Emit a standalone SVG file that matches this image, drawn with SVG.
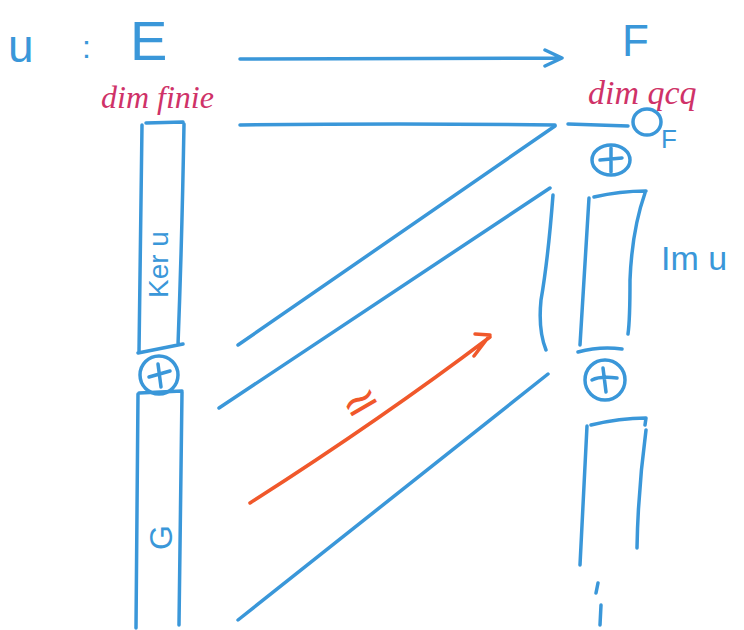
<svg xmlns="http://www.w3.org/2000/svg" width="744" height="630" viewBox="0 0 744 630">
<style>
.b{fill:none;stroke:#3a97d9;stroke-width:3.5;stroke-linecap:round;stroke-linejoin:round}
.o{fill:none;stroke:#f0582b;stroke-width:3.5;stroke-linecap:round;stroke-linejoin:round}
.tb{fill:#3a97d9;font-family:"Liberation Sans",sans-serif}
.tp{fill:#cf3268;font-family:"Liberation Serif",serif;font-style:italic}
.to{fill:#f0582b;font-family:"DejaVu Sans",sans-serif}
</style>
<rect width="744" height="630" fill="#fff"/>
<g id="title">
<text class="tb" x="8" y="62" font-size="46">u</text>
<text class="tb" x="82" y="58" font-size="32">:</text>
<text class="tb" x="130" y="60" font-size="56">E</text>
</g>
<g id="F">
<text class="tb" x="622" y="56" font-size="44">F</text>
<text class="tp" x="588" y="104" font-size="34">dim qcq</text>
</g>
<g id="Elabel"><text class="tp" x="101" y="108" font-size="32">dim finie</text></g>
<g id="zeroF">
<ellipse class="b" cx="647" cy="122" rx="14" ry="13"/>
<text class="tb" x="661" y="148" font-size="26">F</text>
</g>
<g id="oplusR1"><ellipse class="b" cx="611" cy="160" rx="19" ry="15"/><path class="b" d="M600 160 L622 158 M611 148 L611 172"/></g>
<g id="ker">
<path class="b" d="M146 123 L183 122 M142 125 L139 352 M184 124 Q182 240 178 345 M138 353 L183 344"/>
<text class="tb" font-size="28" transform="translate(168,298) rotate(-90)">Ker u</text>
</g>
<g id="oplusL"><circle class="b" cx="159" cy="375" r="19"/><path class="b" d="M149 377 L170 371 M158 364 L161 387"/></g>
<g id="G">
<path class="b" d="M139 393 L182 391 M138 394 L136 628 M182 392 Q180 520 179 625"/>
<text class="tb" font-size="32" transform="translate(172,550) rotate(-90)">G</text>
</g>
<g id="im">
<path class="b" d="M594 197 Q620 191 646 191 M589 198 L580 345 M645 193 Q632 230 630 280 Q630 320 628 334 M578 352 Q600 346 622 349"/>
<text class="tb" x="661" y="270" font-size="34">Im u</text>
</g>
<g id="oplusR2"><circle class="b" cx="605" cy="380" r="20"/><path class="b" d="M592 380 Q600 376 617 378 M603 368 L606 392"/></g>
<g id="lower">
<path class="b" d="M591 425 Q620 418 646 418 L645 425 M587 426 L580 565 M646 430 Q638 490 637 548 M598 583 L596 593 M601 605 L600 625"/>
</g>
<g id="connectors">
<path class="b" d="M240 59 L562 58 M545 50 L562 58 L545 66"/>
<path class="b" d="M240 125 Q400 123 555 125 M568 124 L628 126"/>
<path class="b" d="M238 345 L555 126"/>
<path class="b" d="M219 408 L550 188"/>
<path class="b" d="M553 195 Q548 260 541 300 Q538 330 546 350"/>
<path class="b" d="M238 620 L548 374"/>
<path class="o" d="M250 503 Q380 420 490 337 M475 334 L490 335 L474 356"/>
<text class="to" x="340" y="418" font-size="46" transform="rotate(-30 360 400)">≃</text>
</g>
</svg>
